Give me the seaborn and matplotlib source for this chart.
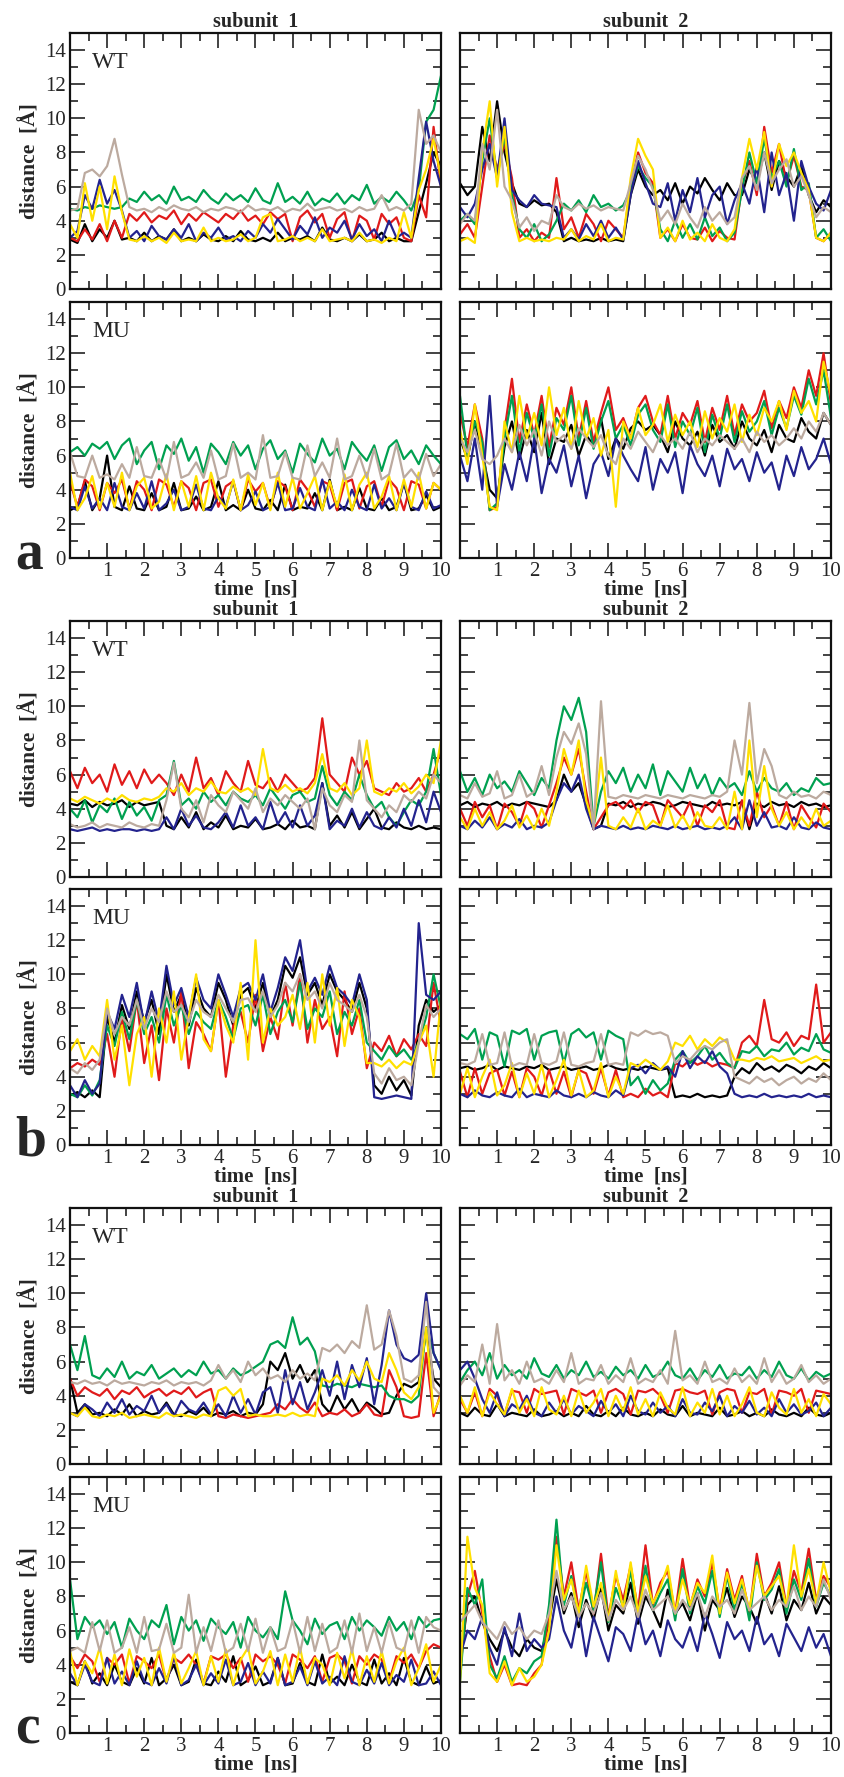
import numpy as np
import pandas as pd
import matplotlib
matplotlib.use("Agg")
import matplotlib.pyplot as plt
import seaborn as sns
from matplotlib.ticker import MultipleLocator

# Distances in tenths of an angstrom, every ~0.2 ns (0 .. 10 ns)
PAIRS = ["black", "red", "green", "blue", "yellow", "tan"]
COLORS = {"black": "#000000", "red": "#e01a1a", "green": "#00a050",
          "blue": "#23238e", "yellow": "#ffe000", "tan": "#bcaa9f"}

# ---- panel a ----
A_WT_S1 = {
    "black": "29 27 38 28 35 30 40 29 30 28 33 28 31 29 35 28 30 28 32 29 28 31 28 34 29 28 30 28 "
             "33 28 30 29 31 28 36 29 28 30 28 32 28 29 33 28 30 28 28 45 62 80 72",
    "red": "30 28 35 29 38 28 40 30 44 40 45 39 43 41 46 38 44 40 45 42 39 44 41 46 40 43 38 45 "
           "41 44 28 42 46 39 44 30 41 45 28 43 40 29 44 38 42 30 28 55 42 95 60",
    "green": "47 46 48 47 49 48 47 48 53 51 57 52 55 50 60 52 54 51 58 53 50 56 52 55 51 59 52 50 "
             "62 51 54 50 57 49 53 51 56 50 55 52 61 50 54 51 57 52 46 58 98 105 125",
    "blue": "30 34 55 47 64 50 58 46 30 34 28 37 31 29 35 30 38 28 33 30 36 29 31 28 34 30 38 33 "
            "41 35 29 37 32 42 30 36 33 40 29 38 31 35 28 40 30 33 30 65 98 75 60",
    "yellow": "38 30 62 40 60 35 66 45 29 28 31 28 30 27 33 28 29 28 36 28 30 28 29 32 28 30 42 44 "
              "28 29 31 28 30 28 35 28 29 30 28 33 28 29 27 30 28 45 30 58 70 88 65",
    "tan": "46 47 68 70 66 72 88 67 48 46 47 45 48 46 49 47 46 48 45 47 46 48 47 45 49 46 47 46 "
           "48 45 47 46 50 46 47 48 46 47 45 48 46 47 55 46 48 46 50 105 85 90 80",
}
A_WT_S2 = {
    "black": "62 55 60 95 75 110 80 62 50 48 52 49 50 45 28 30 28 29 28 30 28 29 28 55 70 60 55 "
             "58 52 62 50 60 56 65 58 52 62 55 55 70 62 80 58 75 66 60 72 55 45 52 48",
    "red": "32 38 30 60 90 70 85 65 30 35 28 33 30 65 35 42 30 44 38 28 40 35 30 60 80 68 62 "
           "30 35 28 38 30 29 36 28 34 30 29 60 75 55 95 68 85 62 78 60 58 30 28 33",
    "green": "40 44 38 75 100 65 90 55 35 30 38 28 32 40 50 46 52 45 55 48 50 46 49 58 72 65 60 "
             "35 28 40 30 38 29 42 31 36 28 33 58 80 62 88 65 75 60 82 58 62 30 35 28",
    "blue": "48 42 50 70 85 65 100 58 52 48 55 50 49 48 30 35 29 38 31 40 30 36 29 55 75 62 50 "
            "48 62 40 58 45 65 42 55 60 38 52 62 50 72 45 80 55 68 40 75 60 50 46 58",
    "yellow": "28 30 27 80 110 60 95 45 28 30 28 29 28 30 29 35 28 31 29 38 28 30 29 65 88 78 70 "
              "30 36 28 40 29 33 28 38 30 28 35 65 88 70 92 60 85 72 80 68 58 30 28 33",
    "tan": "38 44 40 85 70 105 60 52 36 42 34 40 38 55 48 46 50 47 49 46 48 47 46 62 78 70 58 "
           "40 46 38 50 42 36 48 40 45 38 42 65 72 58 80 62 70 76 60 66 55 42 48 45",
}
A_MU_S1 = {
    "black": "28 30 45 28 35 60 30 28 42 29 28 38 28 30 44 28 29 36 28 30 45 28 31 28 40 29 28 34 "
             "28 43 28 30 29 38 28 46 28 30 28 41 29 28 35 28 30 44 28 29 37 28 30",
    "red": "45 30 46 42 28 44 38 46 29 45 40 28 46 43 30 45 41 28 44 46 30 42 45 28 46 39 44 29 "
           "45 42 28 46 40 30 45 43 28 44 46 29 42 45 30 46 41 28 45 43 29 44 40",
    "green": "62 65 60 67 64 68 58 66 70 55 63 68 52 66 61 70 57 65 50 67 62 55 68 60 66 52 64 69 "
             "58 63 50 67 61 56 70 60 64 52 68 62 57 66 51 65 69 58 63 55 66 60 55",
    "blue": "30 28 42 29 35 28 44 30 28 38 29 45 28 32 40 28 30 43 29 28 36 30 45 28 31 39 28 30 "
            "44 28 29 41 30 28 46 29 33 28 40 30 28 43 29 35 28 44 30 28 39 29 31",
    "yellow": "50 28 35 48 29 44 30 50 28 42 47 29 33 49 28 45 30 48 28 50 35 29 46 28 49 31 44 28 "
              "50 30 47 29 38 48 28 45 30 49 28 43 50 29 36 48 28 46 30 50 29 44 40",
    "tan": "62 48 47 60 47 49 46 55 47 65 48 47 58 46 68 47 49 56 47 63 46 48 67 47 50 46 72 47 "
           "48 62 47 46 66 48 56 47 70 46 48 60 47 64 46 49 67 47 52 46 61 48 55",
}
A_MU_S2 = {
    "black": "70 58 80 62 40 35 65 80 58 75 62 85 55 70 68 78 60 72 66 82 58 70 64 76 80 75 78 72 "
             "62 80 70 66 74 60 78 68 72 64 80 70 66 75 62 78 70 68 82 74 70 85 78",
    "red": "85 65 90 70 28 30 75 105 68 90 72 95 65 88 78 100 70 92 68 85 100 75 82 70 88 95 80 72 "
           "95 70 85 78 92 68 88 75 95 72 90 80 85 98 76 92 82 100 88 110 95 120 90",
    "green": "95 60 80 68 28 32 70 95 62 85 70 90 60 82 75 95 66 88 64 80 92 70 78 66 84 90 75 68 "
             "90 65 80 72 88 62 84 70 90 68 86 74 80 92 72 88 76 95 84 105 90 110 82",
    "blue": "60 45 70 40 95 30 55 40 62 45 70 38 58 50 66 42 60 35 55 62 48 70 60 52 45 65 40 58 "
            "50 62 38 66 55 48 60 42 64 52 58 45 62 50 56 40 60 48 65 52 58 70 55",
    "yellow": "75 55 90 60 30 28 80 62 95 70 85 66 100 72 88 64 92 70 82 60 75 30 80 70 88 72 78 90 "
              "68 84 72 80 65 86 70 82 74 90 68 84 72 88 80 92 75 98 85 92 80 115 95",
    "tan": "70 62 75 58 55 60 70 62 78 66 75 60 80 68 72 64 76 70 65 72 60 55 70 64 74 68 62 72 "
           "66 70 64 74 62 70 66 72 68 64 70 62 74 68 72 66 70 76 70 80 74 85 78",
}

# ---- panel b ----
B_WT_S1 = {
    "black": "43 42 45 41 44 42 43 45 41 44 42 43 44 30 28 35 29 38 28 32 29 36 28 30 29 34 28 "
             "29 31 28 33 29 30 28 55 30 36 29 38 28 34 40 29 28 32 29 28 30 28 29 28",
    "red": "62 52 64 55 60 50 66 54 62 52 63 55 60 55 48 60 50 70 52 58 48 62 55 50 68 54 52 "
           "58 50 60 55 50 52 58 93 60 55 50 70 60 68 52 50 48 55 50 52 58 50 60 75",
    "green": "40 35 45 32 42 38 46 34 44 36 41 33 45 48 68 42 46 40 50 44 48 42 50 46 44 48 42 "
             "52 46 40 48 50 44 46 65 48 42 50 45 60 48 40 44 35 30 38 45 42 50 75 48",
    "blue": "28 27 28 29 27 28 27 28 28 27 28 27 28 35 28 40 30 36 29 28 32 38 29 42 30 35 28 "
            "44 31 38 29 42 30 36 55 28 33 30 40 29 38 30 28 35 29 40 30 45 32 50 38",
    "yellow": "46 44 47 45 43 46 44 48 45 44 46 45 47 52 50 55 48 52 50 56 50 49 53 50 52 48 75 "
              "52 50 54 50 52 49 55 72 52 50 55 48 52 80 50 48 52 50 55 49 53 60 55 80",
    "tan": "31 29 30 32 29 31 30 29 32 30 29 31 30 45 67 40 35 45 32 48 42 38 50 45 40 52 38 "
           "46 42 48 44 40 46 28 52 42 38 48 44 80 45 40 35 42 38 48 44 50 46 60 55",
}
B_WT_S2 = {
    "black": "42 44 41 43 42 44 41 43 42 44 43 42 41 45 60 50 55 42 28 30 43 42 44 41 43 42 44 "
             "43 41 42 44 43 42 41 44 42 43 42 44 28 43 41 44 42 43 41 44 42 43 41 42",
    "red": "40 30 44 35 42 28 43 38 30 44 40 29 42 55 70 60 75 50 28 35 42 44 40 45 38 44 42 "
           "30 45 40 35 44 30 42 38 45 29 28 45 30 50 35 42 30 44 28 42 35 29 43 38",
    "green": "62 50 58 48 60 52 56 50 62 55 48 58 52 80 100 92 105 85 30 50 62 55 64 50 60 52 66 "
             "48 62 56 50 64 52 60 48 58 52 55 48 62 50 58 52 50 55 48 52 50 58 54 55",
    "blue": "30 28 33 29 35 28 31 29 34 28 30 29 32 45 55 50 60 40 28 30 29 28 30 28 29 28 30 "
            "29 28 30 28 29 30 28 29 28 30 35 28 45 30 38 29 30 28 35 29 28 32 29 28",
    "yellow": "35 28 40 30 38 28 33 42 29 36 28 40 30 50 75 60 80 45 30 70 30 28 35 29 40 28 33 "
              "30 42 29 36 28 38 30 29 35 28 50 28 80 35 65 40 30 38 28 35 29 40 30 33",
    "tan": "48 46 55 47 49 62 46 48 60 47 50 65 48 70 85 78 90 72 28 103 47 46 48 47 46 48 47 "
           "46 48 47 46 48 47 46 48 47 50 80 60 102 55 75 65 48 46 50 47 48 46 50 48",
}
B_MU_S1 = {
    "black": "29 31 28 32 28 75 60 82 68 90 72 85 65 100 78 88 70 92 80 75 95 85 70 88 92 80 95 "
             "75 85 105 98 110 88 95 82 100 90 85 78 95 80 35 30 40 32 38 29 70 85 78 82",
    "red": "45 48 46 50 47 65 40 75 55 85 48 70 38 80 60 90 45 72 65 55 85 40 70 78 60 88 55 "
           "75 62 95 70 100 60 85 68 75 52 90 65 80 45 60 55 64 52 62 56 65 58 95 70",
    "green": "30 28 35 29 38 70 58 78 62 85 65 75 60 88 70 82 65 78 72 68 85 75 62 80 82 70 88 "
             "65 78 85 72 95 68 80 75 90 65 78 70 85 60 55 50 58 52 56 50 60 75 100 80",
    "blue": "35 28 38 30 36 78 68 88 75 95 70 90 72 105 82 92 75 98 85 80 100 88 75 92 95 85 100 "
            "78 92 110 102 120 90 98 88 105 92 88 82 100 85 28 27 28 29 28 27 130 88 85 90",
    "yellow": "55 62 50 58 52 85 50 70 35 65 75 40 80 60 90 50 75 100 62 55 85 70 60 95 50 120 60 "
              "80 70 75 88 68 95 60 100 70 92 58 85 75 48 48 46 50 45 49 47 60 70 40 85",
    "tan": "45 42 48 44 50 80 65 75 70 85 68 80 72 90 78 82 72 85 78 75 88 80 72 85 86 78 90 "
           "75 82 95 90 100 85 90 80 95 85 82 78 88 75 42 36 45 38 40 35 60 82 75 80",
}
B_MU_S2 = {
    "black": "45 46 44 45 47 44 46 45 44 46 45 47 44 45 46 44 45 46 44 45 47 45 44 45 44 46 45 "
             "44 45 28 29 28 30 28 29 28 29 40 45 42 48 44 46 43 47 45 42 46 44 48 45",
    "red": "43 28 45 30 42 44 29 43 28 45 40 29 44 30 43 28 44 42 30 45 29 44 28 30 28 33 29 "
           "31 28 48 46 50 47 49 46 48 47 45 60 64 58 85 62 60 66 58 64 62 94 60 66",
    "green": "65 62 68 50 66 64 46 67 65 68 50 64 66 67 48 65 68 63 66 50 67 64 62 35 40 30 38 "
             "32 36 50 55 48 52 58 50 54 48 45 55 54 58 52 56 55 60 53 57 55 65 56 54",
    "blue": "30 28 32 29 28 31 29 28 33 28 30 29 28 32 29 28 30 28 31 29 28 32 29 45 47 42 48 "
            "44 46 40 55 45 52 48 55 46 42 30 28 29 28 30 28 29 28 29 28 30 28 29 28",
    "yellow": "30 45 28 40 50 29 35 48 28 42 30 47 28 38 50 29 44 28 32 48 28 40 30 48 46 50 47 "
              "44 49 60 58 64 56 62 58 63 60 50 50 49 51 50 52 49 50 51 48 50 52 49 50",
    "tan": "48 47 49 65 47 48 66 46 48 47 65 48 47 49 66 47 46 48 49 65 47 48 47 66 64 67 65 "
           "66 64 48 52 50 55 58 56 60 62 40 38 36 40 37 39 35 38 40 36 39 37 42 38",
}

# ---- panel c ----
C_WT_S1 = {
    "black": "50 30 35 29 30 28 32 29 35 28 31 29 30 36 29 28 31 29 33 28 30 29 31 28 30 29 35 "
             "60 55 65 50 58 48 55 35 30 40 32 38 30 36 33 29 30 40 47 45 48 78 50 45",
    "red": "50 40 45 42 40 44 38 43 41 45 39 42 44 40 43 41 45 39 42 44 28 27 29 28 27 28 29 "
           "30 35 32 38 33 30 36 28 30 29 32 28 30 35 29 28 55 45 28 27 28 65 28 42",
    "green": "70 55 75 52 50 56 51 60 50 54 52 58 50 53 56 51 55 52 60 53 55 50 56 52 54 57 60 "
             "70 72 68 86 70 74 66 46 45 47 46 45 47 46 45 46 40 38 38 36 40 80 65 55",
    "blue": "30 28 35 32 28 36 30 38 29 34 31 40 30 35 28 37 32 30 36 29 35 28 40 30 38 29 42 "
            "45 30 55 35 48 32 42 55 40 60 38 58 45 62 35 58 90 70 62 60 64 100 65 55",
    "yellow": "30 28 33 28 27 29 28 30 27 28 29 28 27 30 28 29 28 27 29 28 43 45 40 44 28 29 28 "
              "28 29 28 30 28 29 28 50 48 52 46 55 49 60 50 48 65 55 42 38 45 80 30 40",
    "tan": "48 47 49 47 48 46 49 47 48 47 46 48 47 49 46 48 47 48 46 49 58 50 55 48 60 52 56 "
           "50 52 48 55 50 53 49 68 66 70 65 72 68 93 67 70 90 75 50 48 52 95 45 40",
}
C_WT_S2 = {
    "black": "30 28 33 29 28 35 28 30 29 28 32 28 29 31 28 30 28 34 29 28 31 28 33 29 28 30 28 "
             "32 29 28 34 28 30 29 28 33 28 29 31 28 30 28 32 29 28 30 28 33 29 28 30",
    "red": "38 30 42 28 44 40 29 43 42 30 44 41 42 43 29 44 42 40 43 30 42 44 41 29 43 42 44 "
           "40 30 43 44 42 41 43 29 42 44 43 30 42 41 44 29 43 42 40 44 30 43 42 41",
    "green": "48 55 60 52 65 50 58 52 55 50 62 53 51 58 50 55 52 60 51 54 50 57 52 55 50 58 51 "
             "53 60 52 50 56 49 55 51 58 50 53 52 57 50 55 51 60 52 50 56 49 54 51 53",
    "blue": "55 60 50 38 30 42 28 35 32 40 30 28 36 30 38 29 34 31 28 37 30 35 28 40 31 29 36 "
            "30 34 28 38 30 29 36 31 40 28 34 30 37 29 33 28 38 30 35 29 31 36 28 33",
    "yellow": "40 30 45 28 42 35 29 44 30 38 28 45 32 29 40 28 43 30 36 44 28 40 31 45 29 38 28 "
              "42 33 29 45 28 36 30 44 29 40 28 35 45 30 28 42 33 29 44 30 38 28 41 35",
    "tan": "46 52 48 70 47 82 49 55 47 60 48 50 47 55 48 65 47 50 49 58 47 52 48 62 47 50 48 "
           "55 47 78 49 52 47 60 48 50 47 56 48 52 47 62 48 55 47 50 58 48 52 47 50",
}
C_MU_S1 = {
    "black": "30 28 42 29 35 28 40 30 28 38 29 44 28 32 40 28 30 43 29 28 36 30 45 28 31 39 28 "
             "30 44 28 29 41 30 28 46 29 33 28 40 30 28 43 29 35 28 44 30 28 39 29 31",
    "red": "45 38 46 42 30 44 40 46 29 45 42 38 46 30 44 41 46 40 29 45 43 46 38 44 30 46 42 "
           "45 40 29 46 43 38 45 30 44 46 42 29 45 40 46 43 30 45 41 46 38 48 52 50",
    "green": "90 55 68 62 66 58 65 50 67 60 55 66 62 75 52 68 60 66 54 67 62 58 65 50 68 60 56 "
             "62 55 83 66 60 52 67 58 63 65 55 68 60 66 62 57 68 60 65 55 68 62 66 67",
    "blue": "35 28 40 30 28 44 29 36 28 42 30 28 38 29 45 28 31 40 28 35 29 43 28 30 41 28 36 "
            "29 44 28 30 39 28 42 29 33 28 45 30 28 37 29 41 28 34 30 43 28 29 36 28",
    "yellow": "48 28 42 35 50 29 46 28 49 33 44 28 50 30 47 29 38 48 28 45 30 49 28 43 50 29 36 "
              "48 28 46 30 50 29 44 40 28 47 32 49 28 45 30 48 29 42 50 28 38 52 30 40",
    "tan": "48 50 47 65 48 66 47 50 62 47 68 48 49 64 47 50 81 47 62 48 66 47 50 64 48 67 47 "
           "62 48 50 66 47 68 48 64 47 50 66 47 70 48 62 47 65 50 48 66 47 68 62 60",
}
C_MU_S2 = {
    "black": "40 75 80 65 55 48 60 50 45 55 50 48 65 90 70 82 62 78 66 85 60 75 70 88 64 80 72 "
             "62 84 70 76 66 82 60 78 72 85 68 80 74 64 82 70 86 66 78 72 88 70 80 75",
    "red": "35 80 95 70 45 30 40 28 29 28 35 40 70 115 80 100 72 95 70 105 68 92 78 98 72 110 75 "
           "88 95 70 102 74 90 80 100 72 96 78 92 70 105 80 88 100 74 95 82 108 78 92 85",
    "green": "30 85 75 90 40 32 45 30 38 35 42 45 75 125 75 92 68 88 72 100 65 85 74 95 68 98 72 "
             "82 90 66 96 70 86 76 95 68 92 72 88 66 100 78 84 96 70 90 78 102 74 88 80",
    "blue": "45 60 55 68 50 40 62 45 70 48 55 50 55 80 60 50 72 45 68 55 42 62 58 48 70 52 60 "
            "45 66 55 50 62 48 70 58 44 65 55 60 48 68 52 58 45 64 56 48 62 50 58 45",
    "yellow": "30 115 85 75 35 30 42 28 38 30 33 40 60 110 78 90 70 98 74 88 66 95 72 100 70 92 76 "
              "85 98 70 90 75 88 82 104 70 94 76 90 72 98 80 86 92 74 110 80 96 76 100 82",
    "tan": "65 70 75 65 60 55 65 58 62 55 60 58 70 95 72 80 68 76 70 82 66 78 72 80 68 84 72 "
           "76 80 70 78 72 82 68 80 74 78 70 84 72 76 80 72 78 74 86 72 80 74 90 78",
}

GROUPS = ["a", "b", "c"]
PANELS = {
    ("a", "WT", 1): A_WT_S1, ("a", "WT", 2): A_WT_S2,
    ("a", "MU", 1): A_MU_S1, ("a", "MU", 2): A_MU_S2,
    ("b", "WT", 1): B_WT_S1, ("b", "WT", 2): B_WT_S2,
    ("b", "MU", 1): B_MU_S1, ("b", "MU", 2): B_MU_S2,
    ("c", "WT", 1): C_WT_S1, ("c", "WT", 2): C_WT_S2,
    ("c", "MU", 1): C_MU_S1, ("c", "MU", 2): C_MU_S2,
}


def to_frame(panel):
    rows = []
    for pair in PAIRS:
        vals = np.array(panel[pair].split(), dtype=float) / 10.0
        t = np.linspace(0, 10, len(vals))
        rows.append(pd.DataFrame({"time": t, "dist": vals, "pair": pair}))
    return pd.concat(rows, ignore_index=True)


sns.set_theme(style="ticks")
plt.rcParams["font.family"] = ["Liberation Serif", "DejaVu Serif"]

W, H = 845, 1777
fig = plt.figure(figsize=(W / 100, H / 100), dpi=100)

# panel frame geometry in pixels (top edges)
TOPS = {("a", "WT"): 33, ("a", "MU"): 302, ("b", "WT"): 621, ("b", "MU"): 889,
        ("c", "WT"): 1208, ("c", "MU"): 1477}
LEFTS = {1: 70, 2: 460}
AX_W, AX_H = 371, 256

for (grp, kind, sub), panel in PANELS.items():
    top = TOPS[(grp, kind)]
    ax = fig.add_axes([LEFTS[sub] / W, 1 - (top + AX_H) / H, AX_W / W, AX_H / H])
    sns.lineplot(data=to_frame(panel), x="time", y="dist", hue="pair", hue_order=PAIRS,
                 palette=COLORS, estimator=None, sort=False, legend=False,
                 linewidth=1.6, ax=ax)
    ax.set_xlim(0, 10)
    ax.set_ylim(0, 15)
    ax.xaxis.set_major_locator(MultipleLocator(1))
    ax.xaxis.set_minor_locator(MultipleLocator(0.5))
    ax.yaxis.set_major_locator(MultipleLocator(2))
    ax.yaxis.set_minor_locator(MultipleLocator(1))
    ax.tick_params(which="both", direction="in", top=True, right=True,
                   width=1.2, labelsize=15, color="#222222")
    ax.tick_params(which="major", length=11, pad=3)
    ax.tick_params(which="minor", length=5.5)
    for sp in ax.spines.values():
        sp.set_linewidth(1.6)
        sp.set_color("#111111")
    ax.set_xlabel("")
    ax.set_ylabel("")

    if kind == "MU":
        ax.set_xticks(range(11))
        ax.set_xticklabels([""] + [str(i) for i in range(1, 11)])
        ax.set_xlabel("time  [ns]", fontsize=15, fontweight="bold", labelpad=-1)
    else:
        ax.tick_params(labelbottom=False)
        ax.set_title(f"subunit  {sub}", fontsize=14.5, fontweight="bold", pad=4)

    if sub == 1:
        ax.set_ylabel("distance  [Å]", fontsize=15.5, fontweight="bold", labelpad=3)
        ax.text(0.06, 0.885, kind, transform=ax.transAxes, fontsize=17,
                ha="left", va="center")
    else:
        ax.tick_params(labelleft=False)

    if kind == "MU" and sub == 1:
        fig.text(15 / W, 1 - (top + AX_H + 11) / H, grp, fontsize=40,
                 fontweight="bold", ha="left", va="baseline")

fig.savefig("out.png", dpi=100)
